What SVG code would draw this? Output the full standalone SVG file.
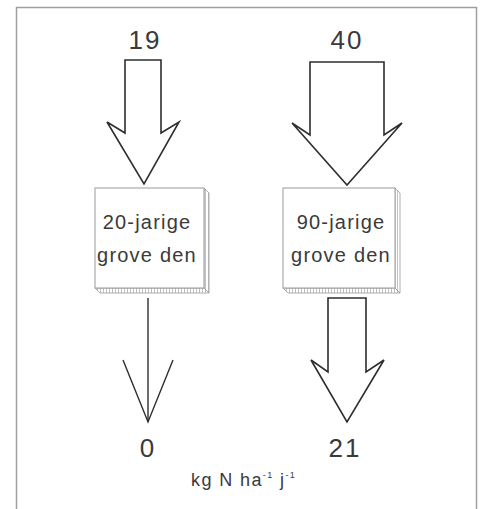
<svg xmlns="http://www.w3.org/2000/svg" width="481" height="509" viewBox="0 0 481 509">
<style>
.arrow{fill:#fff;stroke:#2e2e2e;stroke-width:1.6;stroke-linejoin:miter}
.thin{fill:none;stroke:#2e2e2e;stroke-width:1.4}
.face{fill:#fff;stroke:#9a9a9a;stroke-width:1}
.side{fill:url(#vh);stroke:#9a9a9a;stroke-width:0.8}
.num{font-family:"Liberation Sans",Arial,sans-serif;font-size:26px;fill:#3a3a3a;text-anchor:middle;letter-spacing:2px}
.lbl{font-family:"Liberation Sans",Arial,sans-serif;font-size:20px;fill:#3a3a3a;text-anchor:middle;letter-spacing:1.2px}
.unit{font-family:"Liberation Sans",Arial,sans-serif;font-size:18px;fill:#3a3a3a;letter-spacing:1.4px}
</style>
<defs>
<pattern id="vh" width="3" height="10" patternUnits="userSpaceOnUse">
<rect width="3" height="10" fill="#fff"/>
<line x1="1.5" y1="0" x2="1.5" y2="10" stroke="#a8a8a8" stroke-width="0.7"/>
</pattern>
</defs>
<rect x="16.5" y="7.5" width="460" height="520" fill="none" stroke="#a0a0a0" stroke-width="1.5"/>
<g id="connectors">
<polygon class="arrow" points="125,60 161,60 161,133 179,122 144,184 107,122 125,133"/>
<polygon class="arrow" points="310,62 384,62 384,135 402,123 347,185 292,123 310,135"/>
<g class="thin">
<line x1="148" y1="298" x2="148" y2="422"/>
<polyline points="123,360 148,422 173,360"/>
</g>
<polygon class="arrow" points="328,298 366,298 366,372 384,360 347,422 311,360 328,372"/>
</g>
<g id="in-19"><text class="num" x="145" y="49">19</text></g>
<g id="in-40"><text class="num" x="347" y="49">40</text></g>
<g id="box-20">
<polygon class="side" points="204,188 209,193 209,293 204,288"/>
<polygon class="side" points="95,288 204,288 209,293 100,293"/>
<rect class="face" x="95" y="188" width="109" height="100"/>
<text class="lbl" x="147" y="229">20-jarige</text>
<text class="lbl" x="147" y="262">grove den</text>
</g>
<g id="box-90">
<polygon class="side" points="395,188 400,193 400,293 395,288"/>
<polygon class="side" points="283,288 395,288 400,293 288,293"/>
<rect class="face" x="283" y="188" width="112" height="100"/>
<text class="lbl" x="341" y="229">90-jarige</text>
<text class="lbl" x="341" y="262">grove den</text>
</g>
<g id="out-0"><text class="num" x="148" y="457">0</text></g>
<g id="out-21"><text class="num" x="345" y="457">21</text></g>
<g id="unit"><text class="unit" x="191" y="486">kg N ha<tspan font-size="9" dy="-8">-1</tspan><tspan dy="8"> j</tspan><tspan font-size="9" dy="-8">-1</tspan></text></g>
</svg>
